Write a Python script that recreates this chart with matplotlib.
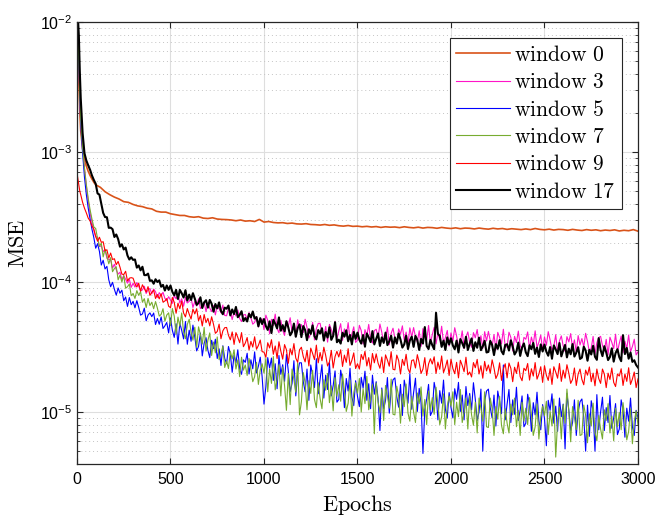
import numpy as np
import matplotlib
matplotlib.use("Agg")
import matplotlib.pyplot as plt
from matplotlib.font_manager import FontProperties
from matplotlib.ticker import LogLocator, NullFormatter, FixedLocator

plt.rcParams['font.family'] = ['Liberation Sans', 'DejaVu Sans']
plt.rcParams['mathtext.fontset'] = 'custom'
plt.rcParams['mathtext.rm'] = 'Liberation Sans'
plt.rcParams['mathtext.it'] = 'Liberation Sans:italic'
plt.rcParams['mathtext.bf'] = 'Liberation Sans:bold'

early = [0, 5, 10, 15, 20, 30, 40, 50, 60, 70, 80, 90]
# epochs at which values are read
epochs_coarse = np.concatenate([early, np.arange(100, 3001, 25)])   # window 0
epochs_fine = np.concatenate([early, np.arange(100, 3001, 10)])     # other windows

unit = 1e-5  # values below are in units of 1e-5

window0 = [1000, 620, 340, 205, 145, 106, 89, 78, 71, 66, 62, 58.5,
    56, 53.5, 49.5, 47,  45, 43.5, 41.5, 41,  39.5, 38.5, 38, 37,  36.5, 35, 34.5, 34.5,
    33.5, 33, 32.5, 32.5,  31.8, 31.5, 31.8, 31,  30.8, 31.2, 30.5, 30.3,  30.2, 30, 29.6, 30,
    29.4, 29.6, 29.2, 30.3,  28.9, 29.2, 28.7, 28.5,  28.6, 28.2, 28.4, 28,  27.9, 28.1, 27.7, 27.6,
    27.4, 27.7, 27.3, 27.5,  27.1, 26.9, 27.2, 26.8,  26.9, 26.6, 26.8, 26.5,  26.7, 26.3, 26.6, 26.4,
    26.5, 26.2, 26.6, 26.3,  26.1, 26.4, 26.0, 26.3,  26.2, 25.9, 26.3, 26.0,  25.8, 26.1, 25.7, 26.0,
    25.9, 25.6, 26.0, 25.7,  25.5, 25.9, 25.6, 25.8,  25.4, 25.7, 25.5, 25.3,  25.6, 25.3, 25.8, 25.4,
    25.2, 25.5, 25.1, 25.4,  25.3, 25.0, 25.4, 25.1,  24.9, 25.3, 25.0, 25.2,  24.8, 25.1, 24.9, 25.2,
    24.7, 25.0, 24.8, 25.3,  24.6]

window3 = [1500, 900, 500, 280, 180, 110, 75, 55, 42, 34, 29, 25,
    22.3, 22.1, 18.7, 19.0, 17.1, 17.8, 15.2, 14.9, 14.9, 12.8,
    13.7, 12.4, 11.5, 11.9, 10.4, 11.2, 10.5, 9.8, 10.5, 9.1,
    9.78, 9.15, 9.9, 9.28, 8.55, 8.7, 9.28, 8.16, 8.71, 8.91,
    8.10, 8.82, 8.42, 7.60, 8.28, 7.84, 8.34, 7.49, 7.19, 7.71,
    7.27, 6.85, 7.87, 7.42, 8.02, 6.89, 7.43, 6.51, 7.63, 6.90,
    7.10, 7.58, 6.37, 7.09, 6.54, 7.43, 6.25, 6.53, 6.97, 5.92,
    6.95, 6.29, 5.92, 6.58, 5.59, 6.61, 6.23, 5.80, 6.65, 5.53,
    5.50, 6.30, 5.93, 5.14, 5.89, 5.48, 6.09, 5.23, 4.96, 5.57,
    5.63, 5.14, 5.82, 5.31, 4.74, 4.89, 5.43, 4.51, 5.00, 5.21,
    4.30, 5.56, 5.07, 3.99, 5.16, 4.63, 5.66, 4.38, 4.07, 5.07,
    4.26, 3.88, 5.03, 4.59, 5.31, 4.10, 4.76, 3.81, 5.12, 4.34,
    4.71, 4.07, 5.17, 4.46, 3.71, 3.99, 4.89, 3.58, 4.38, 4.80,
    4.81, 4.08, 3.71, 4.55, 3.45, 4.72, 4.31, 3.86, 4.99, 3.65,
    4.20, 4.78, 3.56, 4.36, 3.83, 4.87, 3.62, 3.98, 4.52, 3.43,
    3.58, 4.64, 4.23, 3.33, 4.30, 3.86, 4.72, 3.65, 3.39, 4.23,
    4.33, 3.74, 4.75, 4.10, 3.41, 3.67, 4.50, 3.29, 4.03, 4.41,
    3.69, 3.37, 4.36, 3.97, 4.60, 3.56, 4.12, 3.30, 4.44, 3.76,
    4.46, 3.78, 3.45, 4.22, 3.20, 4.38, 4.00, 3.58, 4.63, 3.38,
    3.94, 4.48, 3.34, 4.09, 3.59, 4.57, 3.40, 3.73, 4.24, 3.22,
    4.06, 3.50, 4.45, 3.84, 3.19, 3.44, 4.21, 3.08, 3.77, 4.13,
    3.45, 3.15, 4.08, 3.72, 4.31, 3.33, 3.86, 3.09, 4.15, 3.52,
    4.17, 3.54, 3.22, 3.95, 3.00, 4.10, 3.74, 3.34, 4.33, 3.16,
    3.18, 4.11, 3.75, 2.95, 3.82, 3.42, 4.19, 3.24, 3.01, 3.75,
    3.63, 4.13, 3.08, 3.77, 3.31, 4.21, 3.13, 3.44, 3.91, 2.96,
    3.78, 3.26, 4.15, 3.58, 2.98, 3.21, 3.93, 2.87, 3.52, 3.85,
    3.22, 2.93, 3.80, 3.46, 4.01, 3.10, 3.59, 2.88, 3.87, 3.28,
    3.67, 3.17, 4.03, 3.48, 2.89, 3.11, 3.81, 2.79, 3.41, 3.74,
    3.82, 3.24, 2.95, 3.62, 2.75, 3.76, 3.43, 3.07, 3.97, 2.90,
    3.37, 3.84, 2.86, 3.50, 3.07, 3.91, 2.91, 3.19, 3.63, 2.75,
    2.9]

window5 = [1500, 900, 480, 260, 165, 98, 64, 47, 37, 30.5, 25.5, 22,
    18.2, 19.7, 17.2, 13.5, 14.7, 12.6, 13.2, 10.4, 9.2, 9.94,
    8.79, 7.93, 9.0, 8.20, 8.65, 7.17, 7.66, 6.49, 7.59, 6.69,
    7.10, 6.33, 7.18, 6.39, 5.56, 5.68, 6.29, 5.03, 5.57, 5.79,
    5.42, 5.77, 4.71, 5.24, 4.73, 5.39, 4.39, 4.60, 4.88, 4.06,
    5.29, 4.25, 3.75, 4.77, 3.33, 4.82, 4.24, 3.65, 4.97, 3.32,
    4.26, 3.50, 4.66, 3.77, 2.95, 3.19, 4.05, 2.70, 3.38, 3.73,
    2.99, 2.62, 3.56, 3.07, 3.63, 2.58, 3.06, 2.28, 3.23, 2.58,
    2.35, 3.19, 2.79, 2.02, 2.74, 2.39, 3.01, 2.14, 1.95, 2.52,
    2.41, 2.83, 1.96, 2.52, 2.15, 2.90, 2.00, 2.25, 2.64, 1.87,
    1.15, 1.56, 2.62, 2.18, 2.60, 1.75, 2.35, 1.51, 2.72, 1.95,
    2.31, 1.72, 2.77, 2.07, 1.43, 1.66, 2.48, 1.33, 1.99, 2.39,
    2.39, 1.72, 1.43, 2.14, 1.23, 2.30, 1.92, 1.54, 2.57, 1.38,
    1.79, 2.31, 1.28, 1.92, 1.49, 2.40, 1.33, 1.60, 2.07, 1.19,
    1.25, 2.10, 1.74, 1.08, 1.81, 1.45, 2.17, 1.30, 1.12, 1.74,
    1.32, 1.10, 1.85, 1.53, 2.06, 1.23, 1.65, 1.06, 1.92, 1.37,
    1.71, 1.27, 0.72, 1.53, 1.06, 1.23, 1.84, 0.98, 1.47, 1.77,
    1.83, 1.31, 1.09, 1.63, 0.94, 1.76, 1.46, 1.17, 1.97, 1.05,
    1.41, 1.82, 1.01, 1.52, 1.17, 0.48, 1.05, 1.26, 1.63, 0.94,
    1.01, 1.69, 1.41, 0.87, 1.46, 1.17, 1.76, 1.05, 0.90, 1.41,
    1.08, 0.90, 1.51, 1.25, 1.69, 1.01, 1.35, 0.87, 1.57, 1.12,
    1.39, 1.04, 1.68, 1.25, 0.86, 1.00, 1.50, 0.50, 1.20, 1.45,
    1.50, 1.08, 0.90, 1.35, 0.78, 1.45, 1.21, 0.97, 2.30, 0.87,
    1.15, 1.49, 0.83, 1.24, 0.96, 1.55, 0.86, 1.03, 1.33, 0.77,
    0.82, 1.37, 1.14, 0.71, 1.18, 0.95, 1.42, 0.85, 0.73, 1.14,
    0.89, 0.55, 1.23, 1.03, 1.38, 0.82, 1.11, 0.71, 1.28, 0.92,
    1.15, 0.52, 1.39, 1.03, 0.72, 0.83, 1.24, 0.66, 1.00, 1.20,
    1.26, 0.91, 0.50, 1.13, 0.65, 1.22, 1.01, 0.50, 1.36, 0.73,
    1.00, 1.30, 0.72, 1.08, 0.83, 1.34, 0.75, 0.90, 1.16, 0.67,
    0.74, 1.24, 1.03, 0.64, 1.07, 0.85, 1.28, 0.77, 0.66, 1.03,
    0.9]

window7 = [1500, 900, 500, 280, 180, 110, 75, 56, 44, 36, 30.5, 26.5,
    25.8, 21.6, 18.8, 19.9, 15.6, 17.8, 15.8, 13.8, 15.4, 12.0,
    12.7, 13.1, 10.4, 11.3, 10.0, 11.2, 8.96, 9.2, 9.65, 7.85,
    8.16, 7.48, 8.58, 7.89, 8.43, 6.99, 7.45, 6.36, 7.48, 6.59,
    6.99, 6.23, 7.07, 6.29, 5.47, 5.63, 6.23, 4.99, 5.57, 5.79,
    4.62, 6.25, 5.47, 3.97, 5.37, 4.58, 5.78, 4.10, 3.66, 4.72,
    5.17, 4.10, 3.57, 4.49, 3.14, 4.52, 3.93, 3.33, 4.47, 2.94,
    3.56, 4.06, 2.72, 3.45, 2.85, 3.78, 2.53, 2.78, 3.21, 2.20,
    2.47, 2.16, 2.93, 2.56, 3.01, 2.14, 2.52, 1.87, 2.64, 2.10,
    2.30, 1.91, 2.58, 2.15, 1.71, 1.87, 2.41, 1.63, 2.10, 2.35,
    1.99, 2.58, 1.43, 2.14, 1.66, 2.67, 1.48, 1.78, 2.31, 1.33,
    2.22, 1.59, 1.03, 1.98, 1.14, 2.14, 1.78, 1.42, 2.38, 0.95,
    1.20, 2.01, 1.68, 1.04, 1.74, 1.39, 2.09, 1.25, 1.08, 1.68,
    1.27, 1.06, 1.77, 1.47, 1.98, 1.18, 1.59, 1.02, 1.84, 1.32,
    1.62, 1.21, 1.95, 1.45, 1.01, 1.17, 1.75, 0.93, 1.40, 1.68,
    1.40, 1.81, 1.00, 1.51, 1.16, 1.88, 1.04, 1.25, 1.62, 0.68,
    1.67, 1.20, 0.99, 1.49, 0.86, 1.60, 1.33, 1.07, 1.79, 0.96,
    0.95, 1.58, 1.32, 0.82, 1.37, 1.10, 1.64, 0.98, 0.85, 1.32,
    1.00, 0.83, 1.40, 1.16, 1.56, 0.93, 1.25, 0.80, 1.45, 1.04,
    1.29, 0.96, 1.55, 1.15, 0.80, 0.92, 1.38, 0.74, 1.11, 1.33,
    1.11, 1.43, 0.80, 1.19, 0.92, 1.49, 0.83, 0.99, 1.28, 0.74,
    1.33, 0.95, 0.79, 1.19, 0.69, 1.28, 1.07, 0.85, 1.43, 0.77,
    0.76, 1.28, 1.06, 0.66, 1.10, 0.88, 1.32, 0.79, 0.68, 1.06,
    0.82, 0.69, 1.15, 0.95, 1.28, 0.77, 1.03, 0.66, 1.19, 0.85,
    1.07, 0.80, 1.29, 0.96, 0.66, 0.77, 1.15, 0.62, 0.92, 1.11,
    0.94, 1.21, 0.67, 1.01, 0.78, 1.26, 0.45, 0.84, 1.08, 0.62,
    1.14, 0.82, 1.50, 1.02, 0.59, 1.10, 0.91, 0.73, 1.23, 0.66,
    0.67, 1.13, 0.94, 0.58, 0.97, 0.78, 1.17, 0.70, 0.60, 0.94,
    0.74, 0.62, 1.04, 0.86, 1.16, 0.69, 0.93, 0.60, 1.07, 0.77,
    0.99, 0.73, 1.18, 0.88, 0.61, 0.71, 1.06, 0.57, 0.85, 1.02,
    0.8]

window9 = [69, 62, 55, 50, 47, 41, 37, 34, 31, 29.5, 27, 25.5,
    22.4, 20.6, 22.1, 20.2, 20.4, 17.4, 17.7, 15.3, 16.7, 14.9,
    15.1, 13.6, 14.4, 13.0, 11.5, 11.4, 12.1, 10.2, 10.7, 10.8,
    10.7, 9.72, 9.15, 9.79, 8.49, 9.52, 8.94, 8.37, 9.21, 7.89,
    8.33, 8.65, 7.47, 8.01, 7.42, 8.13, 7.00, 7.14, 7.46, 6.51,
    6.35, 7.60, 6.98, 5.75, 6.87, 6.23, 7.13, 5.78, 5.39, 6.25,
    5.66, 5.19, 6.19, 5.68, 6.23, 5.04, 5.52, 4.59, 5.62, 4.87,
    5.25, 4.60, 5.40, 4.73, 4.03, 4.16, 4.74, 3.66, 4.21, 4.45,
    4.47, 3.89, 3.59, 4.13, 3.31, 4.08, 3.75, 3.41, 4.08, 3.18,
    3.39, 3.74, 3.00, 3.49, 3.16, 3.79, 3.04, 3.25, 3.58, 2.91,
    2.89, 2.63, 3.41, 3.11, 3.60, 2.78, 3.22, 2.58, 3.47, 2.94,
    2.55, 3.30, 3.01, 2.37, 3.07, 2.75, 3.36, 2.60, 2.41, 3.01,
    3.15, 2.67, 2.43, 2.98, 2.26, 3.10, 2.82, 2.53, 3.27, 2.39,
    2.87, 2.48, 3.15, 2.72, 2.26, 2.43, 2.98, 2.18, 2.67, 2.93,
    2.65, 3.01, 2.24, 2.74, 2.41, 3.07, 2.28, 2.50, 2.85, 2.16,
    2.35, 2.14, 2.77, 2.53, 2.93, 2.26, 2.62, 2.10, 2.82, 2.39,
    2.80, 2.38, 2.17, 2.65, 2.01, 2.75, 2.51, 2.25, 2.91, 2.13,
    2.11, 2.74, 2.49, 1.96, 2.54, 2.28, 2.78, 2.15, 2.00, 2.49,
    2.52, 2.18, 2.76, 2.39, 1.98, 2.14, 2.62, 1.91, 2.34, 2.57,
    2.34, 2.66, 1.98, 2.42, 2.13, 2.70, 2.01, 2.21, 2.51, 1.91,
    2.55, 2.16, 1.97, 2.41, 1.83, 2.50, 2.28, 2.04, 2.64, 1.93,
    2.03, 1.86, 2.40, 2.19, 2.54, 1.96, 2.27, 1.82, 2.45, 2.07,
    2.30, 1.99, 2.52, 2.18, 1.81, 1.95, 2.39, 1.75, 2.14, 2.35,
    1.83, 2.38, 2.17, 1.71, 2.21, 1.98, 2.42, 1.87, 1.74, 2.17,
    2.08, 2.36, 1.76, 2.15, 1.89, 2.40, 1.79, 1.96, 2.23, 1.69,
    2.27, 1.92, 1.75, 2.15, 1.63, 2.23, 2.03, 1.82, 2.36, 1.72,
    2.10, 1.82, 2.31, 1.99, 1.66, 1.78, 2.18, 1.60, 1.96, 2.14,
    1.78, 1.62, 2.10, 1.92, 2.22, 1.71, 1.99, 1.59, 2.14, 1.81,
    1.66, 2.14, 1.96, 1.54, 1.99, 1.78, 2.18, 1.69, 1.57, 1.96,
    1.89, 2.15, 1.60, 1.96, 1.72, 2.19, 1.63, 1.79, 2.03, 1.54,
    1.8]

window17 = [1500, 1100, 780, 420, 260, 140, 98, 86, 79, 73, 66, 61,
    57, 48, 47, 40, 34, 31.6, 31.5, 26.1, 26.2, 25.5,
    22.2, 23.2, 21.4, 18.7, 19.5, 17.8, 18.4, 16.0, 14.9, 15.5,
    14.8, 14.9, 12.9, 13.4, 12.3, 13.1, 11.3, 11.3, 11.6, 10.2,
    10.3, 9.7, 10.5, 10.0, 10.3, 9.2, 9.5, 8.6, 9.4, 8.7,
    9.4, 8.4, 7.9, 8.7, 7.4, 8.7, 8.2, 7.6, 8.65, 7.2,
    8.0, 7.27, 8.2, 7.45, 6.67, 6.9, 7.63, 6.31, 6.97, 7.24,
    6.35, 7.28, 6.81, 5.91, 6.77, 6.27, 6.97, 5.99, 5.65, 6.35,
    6.23, 6.59, 5.53, 6.15, 5.67, 6.43, 5.36, 5.59, 5.96, 5.01,
    5.28, 4.97, 5.69, 5.35, 5.93, 5.23, 5.37, 4.56, 5.27, 4.75,
    5.19, 4.58, 4.28, 4.98, 4.05, 5.12, 4.78, 4.40, 5.34, 4.22,
    4.66, 4.17, 4.99, 4.47, 3.89, 4.12, 4.79, 3.79, 4.41, 4.72,
    3.77, 4.58, 4.27, 3.57, 4.33, 3.99, 4.64, 3.83, 3.62, 4.27,
    4.01, 4.41, 3.54, 4.12, 3.74, 4.48, 3.59, 3.85, 4.90, 3.44,
    3.60, 3.36, 4.07, 3.80, 4.25, 3.50, 3.91, 3.31, 4.13, 3.65,
    4.08, 3.60, 3.36, 3.91, 3.18, 4.02, 3.75, 3.45, 4.19, 3.31,
    3.65, 4.02, 3.22, 3.75, 3.40, 4.08, 3.27, 3.50, 3.86, 3.13,
    3.75, 3.36, 4.02, 3.60, 3.13, 3.31, 3.86, 3.05, 3.55, 3.80,
    3.17, 3.85, 3.59, 3.00, 3.65, 3.36, 4.50, 3.22, 3.05, 3.59,
    3.26, 3.04, 5.80, 4.00, 3.85, 3.17, 3.54, 3.00, 3.75, 3.31,
    3.69, 3.25, 3.04, 3.54, 2.87, 3.64, 3.39, 3.12, 3.79, 3.00,
    3.34, 3.68, 2.95, 3.44, 3.12, 3.73, 2.99, 3.20, 3.53, 2.87,
    2.90, 3.52, 3.28, 2.74, 3.33, 3.06, 3.57, 2.94, 2.78, 3.28,
    3.32, 2.97, 3.56, 3.19, 2.77, 2.93, 3.42, 2.70, 3.14, 3.37,
    2.88, 2.69, 3.26, 3.04, 3.40, 2.80, 3.13, 2.65, 3.31, 2.92,
    3.30, 2.91, 2.71, 3.16, 2.57, 3.25, 3.03, 2.79, 3.39, 2.68,
    2.98, 3.28, 2.63, 3.07, 2.78, 3.33, 2.67, 2.86, 3.15, 2.56,
    2.62, 3.18, 2.97, 2.48, 3.01, 2.77, 3.23, 2.66, 2.52, 3.70,
    3.00, 2.69, 3.21, 2.88, 2.51, 2.65, 3.09, 2.44, 2.84, 3.04,
    2.64, 2.46, 3.90, 2.79, 3.11, 2.57, 2.87, 2.43, 2.50, 2.30,
    2.2]

labels = ['window 0', 'window 3', 'window 5', 'window 7', 'window 9', 'window 17']
series = [window0, window3, window5, window7, window9, window17]
xs = [epochs_coarse] + [epochs_fine] * 5
colors = ['#D95319', '#FF14C8', '#0000FF', '#77AC30', '#FF0000', '#000000']
widths = [1.2, 0.8, 0.8, 0.8, 0.8, 1.5]

xticks = [0, 500, 1000, 1500, 2000, 2500, 3000]

fig = plt.figure(figsize=(6.58, 5.32), dpi=100)
ax = fig.add_axes([0.117, 0.1278, 0.8526, 0.8308])

for lab, x, vals, c, lw in zip(labels, xs, series, colors, widths):
    ax.plot(x, np.array(vals) * unit, color=c, lw=lw,
            label=r'$\mathrm{' + lab.replace(' ', r'\ ') + '}$')

ax.set_yscale('log')
ax.set_xlim(0, 3000)
ax.set_ylim(3.98e-6, 1e-2)
ax.xaxis.set_major_locator(FixedLocator(xticks))
ax.yaxis.set_major_locator(LogLocator(base=10, numticks=10))
ax.yaxis.set_minor_locator(LogLocator(base=10, subs=np.arange(2, 10), numticks=20))
ax.yaxis.set_minor_formatter(NullFormatter())

ax.grid(True, which='major', color='#dedede', lw=0.8, ls='-')
ax.grid(True, which='minor', axis='y', color='#c4c4c4', lw=0.7, ls=(0, (1, 3)))
ax.set_axisbelow(True)

ax.tick_params(which='both', direction='in', top=True, right=True,
               colors='#262626', labelcolor='black', labelsize=11.5)
ax.tick_params(which='major', length=4.5, width=0.8)
ax.tick_params(axis='x', which='major', pad=6)
ax.tick_params(which='minor', length=2.5, width=0.6)
for s in ax.spines.values():
    s.set_color('#262626')
    s.set_linewidth(0.9)

lfp = FontProperties(size=16, math_fontfamily='cm')
ax.set_xlabel(r'$\mathrm{Epochs}$', fontproperties=lfp, labelpad=4)
ax.set_ylabel(r'$\mathrm{MSE}$', fontproperties=lfp, labelpad=8)

leg = ax.legend(loc='upper right', prop=FontProperties(size=15.5, math_fontfamily='cm'),
                fancybox=False, framealpha=1, edgecolor='#262626',
                handlelength=2.5, handletextpad=0.2, labelspacing=0.3,
                borderpad=0.3, borderaxespad=0.75)
leg.get_frame().set_linewidth(0.8)

fig.savefig('out.png', dpi=100)
